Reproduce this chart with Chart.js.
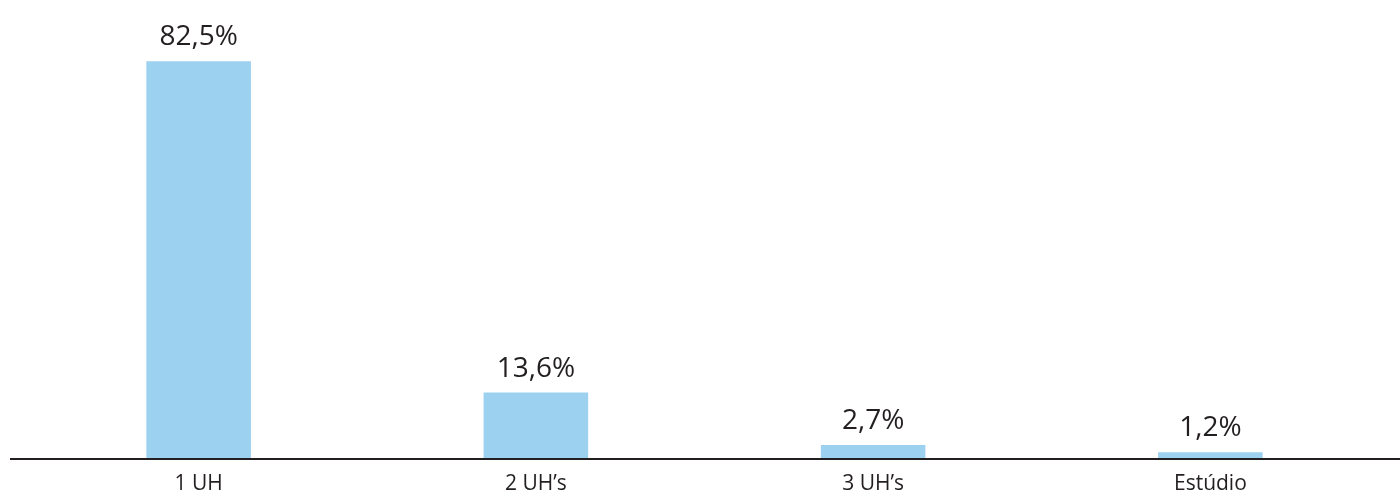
<!DOCTYPE html>
<html lang="pt">
<head>
    <meta charset="utf-8">
    <script src="https://cdn.jsdelivr.net/npm/chart.js@4/dist/chart.umd.min.js"></script>
    <title>UH</title>
    <style>
        html, body { margin: 0; padding: 0; background: #fff; }
        #wrap { width: 1400px; height: 490px; }
    </style>
</head>
<body>
<div id="wrap"><canvas id="myChart"></canvas></div>
<script>
    const categories = ["1 UH", "2 UH\u2019s", "3 UH\u2019s", "Estúdio"];
    const values = [82.5, 13.6, 2.7, 1.2];
    const barColor = "#9dd1f0";
    const textColor = "#231f20";
    const fontFamily = "'Open Sans', 'Noto Sans', sans-serif";

    const fmt = v => v.toFixed(1).replace(".", ",") + "%";

    // value labels above bars + full width base line
    const extras = {
        id: "extras",
        afterDatasetsDraw(chart) {
            const ctx = chart.ctx;
            const meta = chart.getDatasetMeta(0);
            ctx.save();
            ctx.fillStyle = textColor;
            ctx.font = "28px " + fontFamily;
            ctx.textAlign = "center";
            ctx.textBaseline = "bottom";
            meta.data.forEach((bar, i) => {
                ctx.fillText(fmt(values[i]), bar.x, bar.y - 10);
            });
            const y0 = chart.scales.y.getPixelForValue(0);
            ctx.strokeStyle = "#231f20";
            ctx.lineWidth = 2;
            ctx.beginPath();
            ctx.moveTo(10, y0 + 1);
            ctx.lineTo(chart.width, y0 + 1);
            ctx.stroke();
            ctx.restore();
        }
    };

    const chart = new Chart("myChart", {
        type: "bar",
        data: {
            labels: categories,
            datasets: [{
                data: values,
                backgroundColor: barColor,
                barPercentage: 0.31,
                categoryPercentage: 1
            }]
        },
        options: {
            responsive: true,
            maintainAspectRatio: false,
            animation: false,
            layout: { padding: { left: 30, right: 21, top: 30, bottom: 0 } },
            plugins: {
                legend: { display: false },
                tooltip: { enabled: false }
            },
            scales: {
                x: {
                    grid: { display: false },
                    border: { display: false },
                    afterFit: s => { s.height = 32; },
                    ticks: {
                        color: textColor,
                        padding: 5,
                        font: { family: fontFamily, size: 21 }
                    }
                },
                y: {
                    display: false,
                    min: 0,
                    max: 89
                }
            }
        },
        plugins: [extras]
    });
</script>
</body>
</html>
